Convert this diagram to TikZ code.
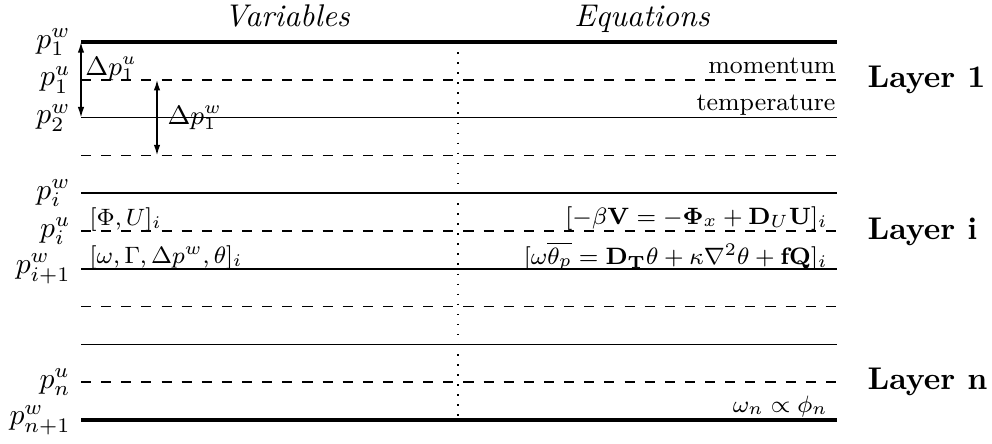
\documentclass[tikz,border=0pt]{standalone}
\usepackage{amsmath,amssymb,bm}
\usetikzlibrary{arrows.meta}
\begin{document}
\begin{tikzpicture}[x=0.3378pt,y=-0.3378pt,
  lvl/.style={line width=0.55pt},
  thk/.style={line width=1.1pt},
  dsh/.style={line width=0.55pt, dash pattern=on 3.4pt off 3.4pt},
  dotv/.style={line width=0.5pt, dash pattern=on 0.5pt off 2.9pt},
  dbl/.style={line width=0.5pt, {Latex[length=3.6pt,width=2.2pt]}-{Latex[length=3.6pt,width=2.2pt]}},
  plab/.style={left, font=\fontsize{9.6}{11}\selectfont},
  dlab/.style={font=\fontsize{8.6}{10}\selectfont},
  txtw/.style={anchor=base west, inner sep=0pt, font=\fontsize{8.4}{10}\selectfont},
  txte/.style={anchor=base east, inner sep=0pt, font=\fontsize{8.4}{10}\selectfont},
  smalltxt/.style={anchor=base east, inner sep=0pt, font=\fontsize{8.5}{10}\selectfont},
  layer/.style={anchor=west, inner sep=0pt, font=\fontsize{10.6}{12}\selectfont\bfseries},
  title/.style={anchor=base, inner sep=0pt, font=\fontsize{10.6}{12}\selectfont\itshape}]
\useasboundingbox (0,0) rectangle (992,443);
\foreach \k in {0,...,10} {
  \coordinate (L\k) at (81,{42+37.8*\k});
  \coordinate (R\k) at (837,{42+37.8*\k});
}
% levels
\draw[thk] (L0) -- (R0);
\draw[thk] (L10) -- (R10);
\foreach \k in {2,4,6,8} { \draw[lvl] (L\k) -- (R\k); }
\foreach \k in {1,3,5,7,9} { \draw[dsh] (L\k) -- (R\k); }
% divider
\coordinate (T) at (458,42);
\coordinate (B) at (458,420);
\draw[dotv] (T) -- (B);
% left pressure labels
\node[plab] (l0) at (L0) {$p_1^w$};
\node[plab] (l1) at (L1) {$p_1^u$};
\node[plab] (l2) at (L2) {$p_2^w$};
\node[plab] (l4) at (L4) {$p_i^w$};
\node[plab] (l5) at (L5) {$p_i^u$};
\node[plab] (l6) at (L6) {$p_{i+1}^w$};
\node[plab] (l9) at (L9) {$p_n^u$};
\node[plab] (l10) at (L10) {$p_{n+1}^w$};
% arrows
\draw[dbl] (L0) -- (L2);
\node[dlab] (du) at (111,69) {$\Delta p_1^u$};
\coordinate (A1) at (157,{42+37.8});
\coordinate (A2) at (157,{42+3*37.8});
\draw[dbl] (A1) -- (A2) node[midway,right,dlab] (dw) {$\Delta p_1^w$};
% titles
\node[title] (tv) at (287,26) {Variables};
\node[title] (te) at (642,26) {Equations};
% right small labels
\node[smalltxt] (mom) at (836,73) {momentum};
\node[smalltxt] (tem) at (836,110) {temperature};
% variables
\node[txtw] (v1) at (89,225) {$[\Phi,U]_i$};
\node[txtw] (v2) at (89,263) {$[\omega,\Gamma,\Delta p^w,\theta]_i$};
% equations
\node[txte] (e1) at (828,224) {$[-\beta\mathbf{V}=-\mathbf{\Phi}_x+\mathbf{D}_U\mathbf{U}]_i$};
\node[txte] (e2) at (828,264) {$[\omega\overline{\theta_p}=\mathbf{D}_{\mathbf{T}}\theta+\kappa\nabla^2\theta+\mathbf{fQ}]_i$};
\node[txte] (e3) at (828,412) {$\omega_n\propto\phi_n$};
% layers
\node[layer] (ly1) at (867,80) {Layer 1};
\node[layer] (lyi) at (867,232) {Layer i};
\node[layer] (lyn) at (867,382) {Layer n};
\end{tikzpicture}
\end{document}
